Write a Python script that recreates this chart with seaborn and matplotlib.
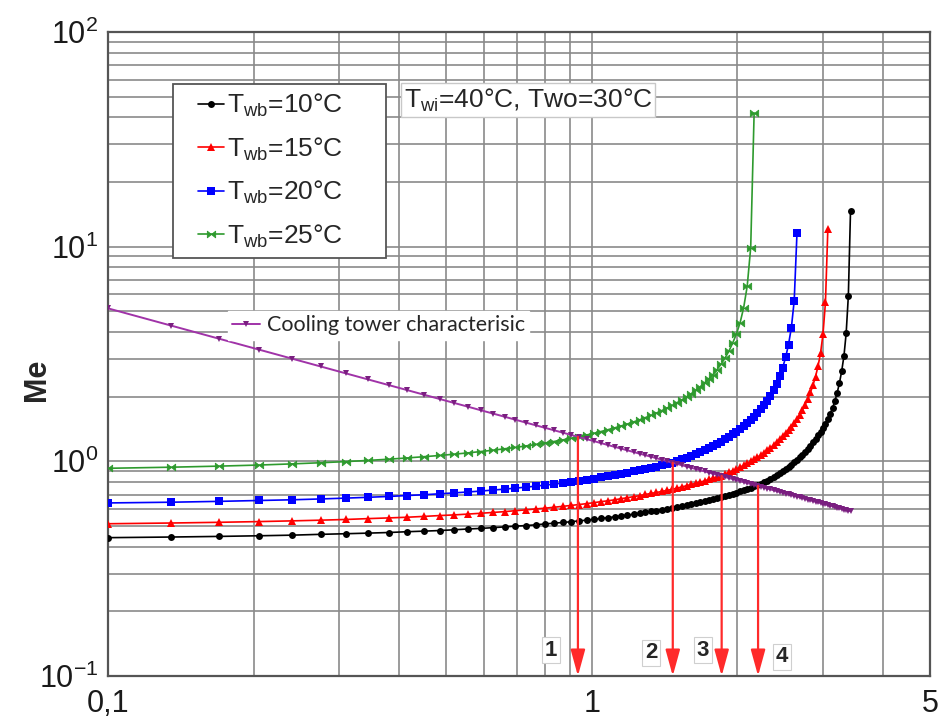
import matplotlib
matplotlib.use("Agg")
import matplotlib.pyplot as plt
from matplotlib.patches import Rectangle, ArrowStyle
from matplotlib.lines import Line2D
from matplotlib.path import Path
from matplotlib.ticker import FixedLocator, NullFormatter, LogLocator
import pandas as pd
import seaborn as sns

# Water-to-air mass flow ratio L/G (shared sample points)
lg_ratio = [
    0.100, 0.135, 0.170, 0.205, 0.240, 0.275, 0.310, 0.345, 0.380, 0.415,
    0.450, 0.485, 0.520, 0.555, 0.590, 0.625, 0.660, 0.695, 0.730, 0.765,
    0.800, 0.835, 0.870, 0.905, 0.940, 0.975, 1.010, 1.045, 1.080, 1.115,
    1.150, 1.185, 1.220, 1.255, 1.290, 1.325, 1.360, 1.395, 1.430, 1.465,
    1.500, 1.535, 1.570, 1.605, 1.640, 1.675, 1.710, 1.745, 1.780, 1.815,
    1.850, 1.885, 1.920, 1.955, 1.990, 2.025, 2.060, 2.095, 2.130, 2.165,
    2.200, 2.235, 2.270, 2.305, 2.340, 2.375, 2.410, 2.445, 2.480, 2.515,
    2.550, 2.585, 2.620, 2.655, 2.690, 2.725, 2.760, 2.795, 2.830, 2.865,
    2.900, 2.935, 2.970, 3.005, 3.040, 3.075, 3.110, 3.145, 3.180, 3.215,
    3.250, 3.285, 3.320, 3.355, 3.390, 3.425,
]

# Required Merkel number for each wet-bulb temperature
me_twb10 = [
    0.441, 0.444, 0.447, 0.450, 0.453, 0.457, 0.460, 0.463, 0.466, 0.470,
    0.473, 0.476, 0.480, 0.484, 0.487, 0.491, 0.495, 0.499, 0.502, 0.506,
    0.511, 0.515, 0.519, 0.523, 0.528, 0.532, 0.537, 0.542, 0.547, 0.551,
    0.557, 0.562, 0.567, 0.573, 0.578, 0.584, 0.590, 0.596, 0.602, 0.608,
    0.615, 0.621, 0.628, 0.635, 0.642, 0.648, 0.655, 0.661, 0.668, 0.675,
    0.683, 0.691, 0.699, 0.707, 0.715, 0.724, 0.733, 0.743, 0.753, 0.764,
    0.775, 0.787, 0.800, 0.814, 0.829, 0.845, 0.862, 0.880, 0.899, 0.920,
    0.942, 0.966, 0.990, 1.017, 1.045, 1.076, 1.108, 1.144, 1.182, 1.224,
    1.270, 1.320, 1.375, 1.435, 1.500, 1.575, 1.665, 1.775, 1.910, 2.090,
    2.320, 2.640, 3.100, 3.950, 5.900, 14.60,
]
me_twb15 = [
    0.512, 0.516, 0.520, 0.524, 0.528, 0.532, 0.536, 0.541, 0.545, 0.549,
    0.554, 0.559, 0.563, 0.568, 0.573, 0.578, 0.583, 0.589, 0.594, 0.600,
    0.605, 0.611, 0.617, 0.623, 0.629, 0.635, 0.642, 0.649, 0.655, 0.662,
    0.670, 0.677, 0.685, 0.692, 0.701, 0.709, 0.716, 0.724, 0.732, 0.741,
    0.750, 0.760, 0.770, 0.780, 0.790, 0.800, 0.811, 0.823, 0.835, 0.847,
    0.859, 0.873, 0.888, 0.904, 0.921, 0.939, 0.958, 0.978, 0.999, 1.022,
    1.046, 1.071, 1.098, 1.127, 1.158, 1.191, 1.227, 1.265, 1.308, 1.351,
    1.400, 1.453, 1.512, 1.578, 1.652, 1.738, 1.837, 1.953, 2.093, 2.265,
    2.484, 2.777, 3.197, 3.920, 5.500, 12.10,
]
me_twb20 = [
    0.640, 0.645, 0.651, 0.657, 0.662, 0.668, 0.674, 0.680, 0.686, 0.693,
    0.699, 0.706, 0.713, 0.720, 0.727, 0.735, 0.742, 0.750, 0.758, 0.766,
    0.775, 0.783, 0.792, 0.801, 0.811, 0.821, 0.831, 0.841, 0.852, 0.863,
    0.875, 0.887, 0.897, 0.908, 0.920, 0.932, 0.945, 0.958, 0.972, 0.987,
    1.003, 1.021, 1.040, 1.060, 1.082, 1.104, 1.127, 1.152, 1.178, 1.206,
    1.235, 1.266, 1.301, 1.336, 1.373, 1.413, 1.456, 1.504, 1.555, 1.612,
    1.675, 1.745, 1.824, 1.914, 2.020, 2.150, 2.300, 2.490, 2.730, 3.050,
    3.500, 4.200, 5.600, 11.60,
]
me_twb25 = [
    0.928, 0.939, 0.950, 0.961, 0.973, 0.985, 0.997, 1.010, 1.023, 1.037,
    1.051, 1.065, 1.080, 1.095, 1.111, 1.127, 1.144, 1.161, 1.179, 1.198,
    1.217, 1.237, 1.258, 1.280, 1.303, 1.326, 1.351, 1.377, 1.404, 1.432,
    1.462, 1.493, 1.526, 1.561, 1.598, 1.637, 1.679, 1.723, 1.770, 1.821,
    1.875, 1.934, 1.997, 2.066, 2.142, 2.226, 2.318, 2.421, 2.537, 2.675,
    2.840, 3.030, 3.260, 3.560, 3.920, 4.420, 5.200, 6.550, 9.900, 42.00,
]

# Cooling tower characteristic (available Merkel number)
tower_me = [
    5.160, 4.289, 3.721, 3.316, 3.009, 2.767, 2.570, 2.406, 2.267, 2.148,
    2.043, 1.951, 1.869, 1.796, 1.729, 1.669, 1.614, 1.563, 1.516, 1.473,
    1.433, 1.396, 1.361, 1.329, 1.298, 1.269, 1.242, 1.216, 1.191, 1.168,
    1.146, 1.125, 1.105, 1.086, 1.068, 1.051, 1.034, 1.018, 1.002, 0.987,
    0.973, 0.959, 0.946, 0.933, 0.921, 0.909, 0.898, 0.887, 0.876, 0.865,
    0.855, 0.845, 0.836, 0.827, 0.818, 0.809, 0.800, 0.792, 0.784, 0.776,
    0.769, 0.761, 0.754, 0.747, 0.740, 0.733, 0.727, 0.720, 0.714, 0.708,
    0.702, 0.696, 0.690, 0.685, 0.679, 0.674, 0.668, 0.663, 0.658, 0.653,
    0.648, 0.644, 0.639, 0.634, 0.630, 0.625, 0.621, 0.617, 0.612, 0.608,
    0.604, 0.600, 0.596, 0.593, 0.589, 0.585,
]

series_labels = [
    r"T$_{\mathregular{wb}}$=10°C",
    r"T$_{\mathregular{wb}}$=15°C",
    r"T$_{\mathregular{wb}}$=20°C",
    r"T$_{\mathregular{wb}}$=25°C",
]
tower_label = "Cooling tower characterisic"
condition_text = r"T$_{\mathregular{wi}}$=40°C, Two=30°C"

# Operating points (intersections with the tower characteristic)
arrow_lg = [0.936, 1.47, 1.855, 2.206]
arrow_me = [1.30, 0.985, 0.855, 0.768]
arrow_tags = ["1", "2", "3", "4"]

x_ticks = [0.1, 1, 5]
x_ticklabels = ["0,1", "1", "5"]
y_ticks = [0.1, 1, 10, 100]
y_ticklabels = [r"$\mathregular{10^{-1}}$", r"$\mathregular{10^{0}}$",
                r"$\mathregular{10^{1}}$", r"$\mathregular{10^{2}}$"]

sns.set_style("white")
plt.rcParams["font.family"] = ["Liberation Sans", "DejaVu Sans"]
plt.rcParams["mathtext.fontset"] = "custom"
plt.rcParams["mathtext.rm"] = "Liberation Sans"
plt.rcParams["mathtext.it"] = "Liberation Sans:italic"
plt.rcParams["mathtext.bf"] = "Liberation Sans:bold"

W, H = 941, 720
fig = plt.figure(figsize=(W / 100, H / 100), dpi=100)
AX_L, AX_R, AX_T, AX_B = 108, 930, 32, 676
ax = fig.add_axes([AX_L / W, 1 - AX_B / H, (AX_R - AX_L) / W, (AX_B - AX_T) / H])
ax.set_xscale("log")
ax.set_yscale("log")


def fig_xy(px, py):
    """Pixel position (from top-left) to figure fraction."""
    return px / W, 1 - py / H


# Horizontal bow-tie marker for the 25 °C series
bowtie = Path([(-1, 0.8), (0, 0), (1, 0.8), (1, -0.8), (0, 0), (-1, -0.8), (-1, 0.8)],
              [Path.MOVETO, Path.LINETO, Path.LINETO, Path.LINETO, Path.LINETO,
               Path.LINETO, Path.CLOSEPOLY])

styles = [
    dict(color="#000000", marker="o", markersize=5.0, mew=0),
    dict(color="#ff0000", marker="^", markersize=5.5, mew=0),
    dict(color="#0000ff", marker="s", markersize=5.5, mew=0),
    dict(color="#2e9a2e", marker=bowtie, markersize=6.0, mew=0.6),
]
series_values = [me_twb10, me_twb15, me_twb20, me_twb25]

for vals, lab, st in zip(series_values, series_labels, styles):
    df = pd.DataFrame({"lg": lg_ratio[:len(vals)], "me": vals})
    sns.lineplot(data=df, x="lg", y="me", ax=ax, color=st["color"], lw=1.2,
                 marker=st["marker"], markersize=st["markersize"],
                 markeredgewidth=st["mew"], markeredgecolor=st["color"],
                 estimator=None, sort=False, legend=False, zorder=3)

tower_df = pd.DataFrame({"lg": lg_ratio, "me": tower_me})
sns.lineplot(data=tower_df, x="lg", y="me", ax=ax, color="#a033a8", lw=1.4,
             marker="v", markersize=5.0, markeredgewidth=0,
             markerfacecolor="#7a1f80", estimator=None, sort=False,
             legend=False, zorder=3)

ax.set_xlim(0.1, 5)
ax.set_ylim(0.1, 100)
ax.set_xlabel("")
ax.set_ylabel("")

ax.xaxis.set_major_locator(FixedLocator(x_ticks))
ax.set_xticklabels(x_ticklabels)
ax.xaxis.set_minor_locator(LogLocator(base=10, subs=range(2, 10), numticks=20))
ax.xaxis.set_minor_formatter(NullFormatter())
ax.yaxis.set_major_locator(FixedLocator(y_ticks))
ax.set_yticklabels(y_ticklabels)
ax.yaxis.set_minor_locator(LogLocator(base=10, subs=range(2, 10), numticks=20))
ax.yaxis.set_minor_formatter(NullFormatter())
ax.tick_params(which="both", length=0, labelsize=22, colors="#1a1a1a")
ax.tick_params(axis="x", pad=9)
ax.tick_params(axis="y", pad=7)

ax.grid(True, which="both", color="#8a8a8a", lw=1.2)
ax.set_axisbelow(True)
for sp in ax.spines.values():
    sp.set_color("#555555")
    sp.set_linewidth(1.6)

fig.text(*fig_xy(37, 380), "Me", rotation=90, fontsize=22, fontweight="bold",
         ha="center", va="center")

# Operating-point arrows
arrow_style = ArrowStyle("-|>", head_length=0.8, head_width=0.22)
for x, top in zip(arrow_lg, arrow_me):
    ax.annotate("", xy=(x, 0.1), xytext=(x, top), annotation_clip=False,
                arrowprops=dict(arrowstyle=arrow_style, color="#ff2a2a", lw=1.6,
                                mutation_scale=20, shrinkA=0, shrinkB=0),
                zorder=4)

tag_pos = [(551, 650), (651, 653), (703, 650), (782, 657)]
for tag, (px, py) in zip(arrow_tags, tag_pos):
    fig.text(*fig_xy(px, py), tag, fontsize=16, fontweight="bold",
             ha="center", va="center",
             bbox=dict(boxstyle="square,pad=0.12", fc="white", ec="#cfcfcf", lw=0.8))

# Wet-bulb legend with its own frame
frame = Rectangle(fig_xy(173, 258), (386 - 173) / W, (258 - 84) / H,
                  transform=fig.transFigure, fc="white", ec="#555555", lw=1.3,
                  zorder=2.5)
ax.add_artist(frame)
frame.set_clip_on(False)
handles = [Line2D([], [], color=st["color"], marker=st["marker"],
                  markersize=st["markersize"], mew=st["mew"], lw=1.2)
           for st in styles]
leg = ax.legend(handles, series_labels, loc="upper left",
                bbox_to_anchor=((198 - AX_L) / (AX_R - AX_L), (AX_B - 92) / (AX_B - AX_T)),
                frameon=False, fontsize=19, handlelength=1.0, handletextpad=0.1,
                labelspacing=0.62, borderpad=0, borderaxespad=0)
leg.set_zorder(6)
ax.add_artist(leg)

tower_handle = Line2D([], [], color="#a033a8", marker="v", markersize=5.0,
                      markerfacecolor="#7a1f80", mew=0, lw=1.4)
leg2 = ax.legend([tower_handle], [tower_label], loc="upper left",
                 bbox_to_anchor=((228 - AX_L) / (AX_R - AX_L), (AX_B - 311) / (AX_B - AX_T)),
                 frameon=True, fancybox=False, facecolor="white", edgecolor="white",
                 framealpha=1, prop=dict(family=["Lato", "DejaVu Sans"], size=15.5),
                 handlelength=1.3, handletextpad=0.3, borderpad=0.2,
                 borderaxespad=0)
leg2.set_zorder(6)

fig.text(*fig_xy(528, 100), condition_text, fontsize=19, ha="center", va="center",
         bbox=dict(boxstyle="square,pad=0.12", fc="white", ec="#c8c8c8", lw=1.0))

fig.savefig("out.png", dpi=100)
